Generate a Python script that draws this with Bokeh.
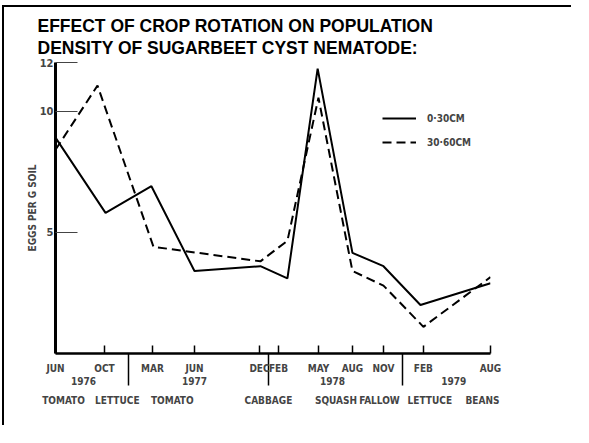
from bokeh.plotting import figure
from bokeh.models import (Range1d, FixedTicker, LinearAxis, Legend, LegendItem, Title)
from bokeh.embed import file_html
from bokeh.resources import INLINE

# ---- data (x in months after June 1976, as placed on the original axis) ----
month_ticks = [0, 4.28, 8.47, 12.14, 17.82, 19.48, 22.97, 25.94, 28.65, 32.14, 38]
month_names = ["JUN", "OCT", "MAR", "JUN", "DEC", "FEB", "MAY", "AUG", "NOV", "FEB", "AUG"]
divider_months = [6.38, 18.65, 30.31]
year_pos = [2.45, 12.14, 24.2, 34.8]
year_names = ["1976", "1977", "1978", "1979"]
crop_pos = [0.7, 5.4, 10.2, 18.6, 24.5, 28.3, 32.7, 37.3]
crop_names = ["TOMATO", "LETTUCE", "TOMATO", "CABBAGE", "SQUASH", "FALLOW", "LETTUCE", "BEANS"]
y_ticks = [5, 10, 12]

months_030 = [0, 4.37, 8.38, 12.14, 17.9, 20.26, 22.9, 25.94, 28.65, 31.88, 38]
eggs_030 = [8.9, 5.8, 6.9, 3.4, 3.6, 3.1, 11.75, 4.15, 3.6, 2.0, 2.9]
months_3060 = [0, 3.67, 8.56, 17.9, 20.26, 22.97, 25.94, 28.65, 32.14, 38]
eggs_3060 = [8.4, 11.05, 4.4, 3.8, 4.65, 10.55, 3.4, 2.8, 1.1, 3.15]

title_lines = ["EFFECT OF CROP ROTATION ON POPULATION", "DENSITY OF SUGARBEET CYST NEMATODE:"]

FONT = "DejaVu Sans Condensed"

p = figure(width=569, height=420, output_backend="svg", toolbar_location=None,
           x_range=Range1d(0, 38), y_range=Range1d(0, 12),
           x_axis_type=None, y_axis_type=None,
           min_border_left=51, min_border_right=83, min_border_top=55, min_border_bottom=74)
p.styles = {"margin-left": "2px", "margin-top": "5px",
            "border-left": "2px solid black", "border-top": "2px solid black"}
p.outline_line_color = None
p.xgrid.visible = False
p.ygrid.visible = False
p.background_fill_color = "white"
p.border_fill_color = "white"

p.add_layout(Title(text="\n".join(title_lines), text_font="Liberation Sans",
                   text_font_size="17.5px", text_font_style="bold", text_color="black",
                   align="left", offset=-18, standoff=10, text_line_height=1.1), "above")

# y axis
yax = LinearAxis(ticker=FixedTicker(ticks=y_ticks), axis_label="EGGS PER G SOIL")
yax.axis_line_width = 3
yax.axis_line_color = "black"
yax.major_tick_in = 22
yax.major_tick_out = 0
yax.major_tick_line_color = "#444444"
yax.major_tick_line_width = 1
yax.minor_tick_line_color = None
yax.major_label_text_font = FONT
yax.major_label_text_font_style = "bold"
yax.major_label_text_font_size = "11px"
yax.major_label_standoff = 2
yax.axis_label_text_font = FONT
yax.axis_label_text_font_style = "bold"
yax.axis_label_text_font_size = "10px"
yax.axis_label_standoff = -1
p.add_layout(yax, "left")

# x axis: months, with dividers as minor ticks
xax = LinearAxis(ticker=FixedTicker(ticks=month_ticks, minor_ticks=divider_months))
xax.major_label_overrides = {t: n for t, n in zip(month_ticks, month_names)}
xax.axis_line_width = 2.5
xax.axis_line_color = "black"
xax.major_tick_in = 8
xax.major_tick_out = 0
xax.major_tick_line_width = 1.5
xax.minor_tick_in = 0
xax.minor_tick_out = 32
xax.minor_tick_line_width = 1.5
xax.minor_tick_line_color = "black"
xax.major_label_text_font = FONT
xax.major_label_text_font_style = "bold"
xax.major_label_text_font_size = "10px"
xax.major_label_standoff = -23
p.add_layout(xax, "below")

def label_axis(pos, names, standoff):
    ax = LinearAxis(ticker=FixedTicker(ticks=pos, minor_ticks=[]))
    ax.major_label_overrides = {t: n for t, n in zip(pos, names)}
    ax.axis_line_color = None
    ax.major_tick_line_color = None
    ax.minor_tick_line_color = None
    ax.major_tick_in = 0
    ax.major_tick_out = 0
    ax.minor_tick_in = 0
    ax.minor_tick_out = 0
    ax.major_label_text_font = FONT
    ax.major_label_text_font_style = "bold"
    ax.major_label_text_font_size = "10px"
    ax.major_label_standoff = standoff
    return ax

p.add_layout(label_axis(year_pos, year_names, 0), "below")
p.add_layout(label_axis(crop_pos, crop_names, 7), "below")

r1 = p.line(months_030, eggs_030, line_color="black", line_width=2)
r2 = p.line(months_3060, eggs_3060, line_color="black", line_width=2, line_dash="9 5")

legend = Legend(items=[LegendItem(label="0·30CM", renderers=[r1]),
                       LegendItem(label="30·60CM", renderers=[r2])],
                location=(327, 201), padding=0, margin=0, spacing=4,
                glyph_width=34, glyph_height=20, label_standoff=11,
                border_line_color=None, background_fill_alpha=0,
                label_text_font=FONT, label_text_font_style="bold",
                label_text_font_size="10px")
p.add_layout(legend, "center")

open("out.html", "w").write(file_html(p, INLINE))
